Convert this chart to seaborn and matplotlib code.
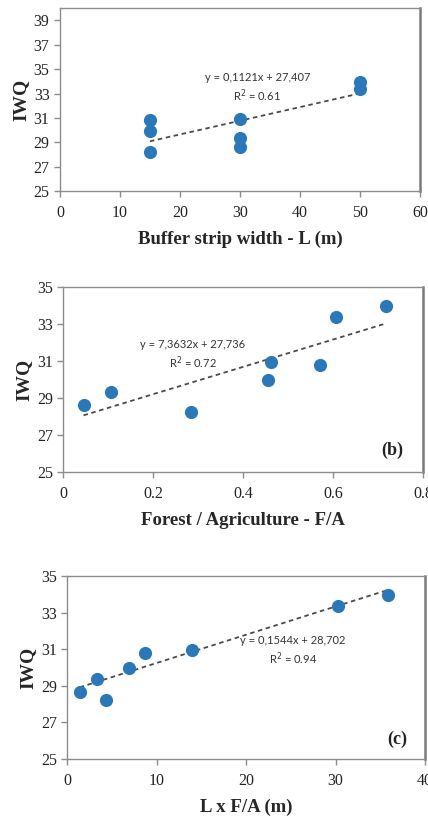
import matplotlib
matplotlib.use("Agg")
import matplotlib.pyplot as plt
import seaborn as sns
import numpy as np
import pandas as pd

# Sampled reaches: buffer strip width, forest/agriculture ratio, their product, water-quality index
L_width = [30, 30, 15, 15, 30, 15, 50, 50]
FA_ratio = [0.045, 0.105, 0.285, 0.455, 0.462, 0.570, 0.607, 0.718]
LxFA = [1.4, 3.3, 4.3, 6.9, 13.9, 8.7, 30.3, 35.9]
IWQ = [28.65, 29.35, 28.25, 29.95, 30.95, 30.8, 33.35, 33.95]

# Linear trend lines (slope, intercept, R²)
fit_a = (0.1121, 27.407, 0.61)
fit_b = (7.3632, 27.736, 0.72)
fit_c = (0.1544, 28.702, 0.94)

df = pd.DataFrame({"L": L_width, "FA": FA_ratio, "LFA": LxFA, "IWQ": IWQ})

sns.set_theme(style="ticks")
plt.rcParams["font.family"] = ["Liberation Serif", "DejaVu Serif"]

fig = plt.figure(figsize=(4.28, 8.17), dpi=100)
axes_pos = [
    [0.140, 0.766, 0.841, 0.224],
    [0.148, 0.422, 0.840, 0.227],
    [0.157, 0.071, 0.836, 0.224],
]

dot = "#2a78b8"
spine_col = "#8c8c8c"

panels = [
    dict(x="L", fit=fit_a, xlim=(0, 60), xticks=[0, 10, 20, 30, 40, 50, 60],
         xtl=["0", "10", "20", "30", "40", "50", "60"], ylim=(25, 40),
         yticks=[25, 27, 29, 31, 33, 35, 37, 39],
         xlabel="Buffer strip width - L (m)", eq_xy=(32.9, 33.45), tag=None),
    dict(x="FA", fit=fit_b, xlim=(0, 0.8), xticks=[0, 0.2, 0.4, 0.6, 0.8],
         xtl=["0", "0.2", "0.4", "0.6", "0.8"], ylim=(25, 35),
         yticks=[25, 27, 29, 31, 33, 35],
         xlabel="Forest / Agriculture - F/A", eq_xy=(0.288, 31.33), tag=("(b)", 0.731, 26.2)),
    dict(x="LFA", fit=fit_c, xlim=(0, 40), xticks=[0, 10, 20, 30, 40],
         xtl=["0", "10", "20", "30", "40"], ylim=(25, 35),
         yticks=[25, 27, 29, 31, 33, 35],
         xlabel="L x F/A (m)", eq_xy=(25.25, 30.9), tag=("(c)", 36.9, 26.1)),
]

for pos, p in zip(axes_pos, panels):
    ax = fig.add_axes(pos)
    slope, icpt, r2 = p["fit"]
    xs = np.array([df[p["x"]].min(), df[p["x"]].max()])
    line_df = pd.DataFrame({"x": xs, "y": slope * xs + icpt})
    sns.lineplot(data=line_df, x="x", y="y", ax=ax, color="#4a4a4a",
                 lw=1.3, linestyle=(0, (2.5, 2)), zorder=3)
    sns.scatterplot(data=df, x=p["x"], y="IWQ", ax=ax, color=dot, s=90,
                    edgecolor=dot, linewidth=0, zorder=4)
    ax.set_xlim(*p["xlim"])
    ax.set_ylim(*p["ylim"])
    ax.set_xticks(p["xticks"])
    ax.set_xticklabels(p["xtl"])
    ax.set_yticks(p["yticks"])
    ax.tick_params(axis="both", labelsize=11.5, colors=spine_col,
                   labelcolor="#222222", length=4, width=1, direction="out")
    ax.tick_params(axis="x", pad=6)
    ax.set_xlabel(p["xlabel"], fontsize=13.5, fontweight="bold", labelpad=7)
    ax.set_ylabel("IWQ", fontsize=14, fontweight="bold", labelpad=3)
    for s in ax.spines.values():
        s.set_color(spine_col)
        s.set_linewidth(1.0)
    ax.spines["right"].set_linewidth(1.8)
    ax.spines["right"].set_color("#7a7a7a")
    sign_c = f"{icpt:.3f}".replace(".", ",")
    sign_s = f"{slope:.4f}".replace(".", ",")
    ax.text(p["eq_xy"][0], p["eq_xy"][1],
            f"y = {sign_s}x + {sign_c}\nR$^2$ = {r2:.2f}",
            ha="center", va="center", multialignment="center",
            fontsize=8, family=["Lato", "DejaVu Sans"], color="#333333",
            linespacing=1.3, zorder=5)
    if p["tag"]:
        t, tx, ty = p["tag"]
        ax.text(tx, ty, t, ha="center", va="center", fontsize=13,
                fontweight="bold", color="#222222")

fig.savefig("out.png", dpi=100)
